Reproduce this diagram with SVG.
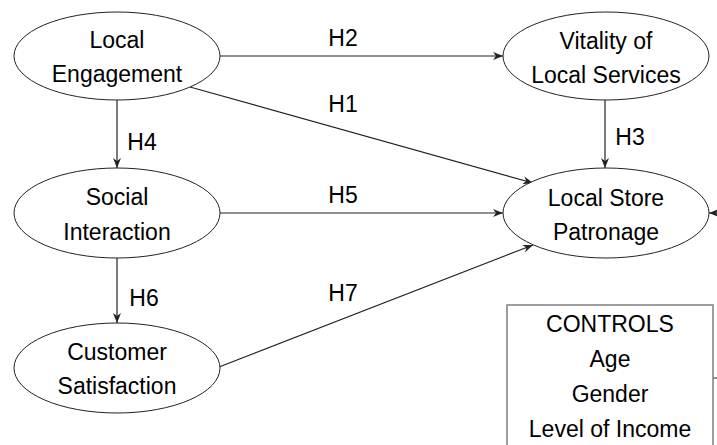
<svg xmlns="http://www.w3.org/2000/svg" width="717" height="445" viewBox="0 0 717 445">
<style>
.node ellipse{fill:#fff;stroke:#222;stroke-width:1}
text{font-family:"Liberation Sans",Arial,sans-serif;font-size:23px;fill:#000;text-anchor:middle}
.conn path{fill:none;stroke:#222;stroke-width:1.2;marker-end:url(#arr)}
.box{fill:#fff;stroke:#7f7f7f;stroke-width:1.5}
</style>
<defs>
<marker id="arr" viewBox="0 0 10 8" refX="10" refY="4" markerWidth="10" markerHeight="8" markerUnits="userSpaceOnUse" orient="auto">
<path d="M0,0 L10,4 L0,8 L3,4 z" fill="#222"/>
</marker>
</defs>
<rect width="717" height="445" fill="#fff"/>
<g class="conn">
<path d="M220,56 H503"/>
<path d="M190,87 L533,183"/>
<path d="M117,100 V168"/>
<path d="M605,100 V168"/>
<path d="M220,213 H503"/>
<path d="M117,258 V323"/>
<path d="M219,367 L533,245"/>
<path d="M713,378 H740 V213 H709"/>
</g>
<g id="local-engagement" class="node">
<ellipse cx="117" cy="56" rx="103" ry="44"/>
<text x="117" y="48">Local</text>
<text x="117" y="82">Engagement</text>
</g>
<g id="vitality" class="node">
<ellipse cx="606" cy="56" rx="103" ry="44"/>
<text x="606" y="49">Vitality of</text>
<text x="606" y="83">Local Services</text>
</g>
<g id="social-interaction" class="node">
<ellipse cx="117" cy="213" rx="103" ry="45"/>
<text x="117" y="205">Social</text>
<text x="117" y="240">Interaction</text>
</g>
<g id="local-store" class="node">
<ellipse cx="606" cy="213" rx="103" ry="45"/>
<text x="606" y="206">Local Store</text>
<text x="606" y="240">Patronage</text>
</g>
<g id="customer-satisfaction" class="node">
<ellipse cx="117" cy="368" rx="103" ry="45"/>
<text x="117" y="360">Customer</text>
<text x="117" y="394">Satisfaction</text>
</g>
<g id="controls">
<rect class="box" x="507" y="305" width="206" height="150"/>
<text x="610" y="332">CONTROLS</text>
<text x="610" y="367">Age</text>
<text x="610" y="402">Gender</text>
<text x="610" y="437">Level of Income</text>
</g>
<g id="labels">
<text x="343" y="46">H2</text>
<text x="343" y="112">H1</text>
<text x="142" y="150">H4</text>
<text x="630" y="145">H3</text>
<text x="343" y="203">H5</text>
<text x="144" y="306">H6</text>
<text x="343" y="301">H7</text>
</g>
</svg>
